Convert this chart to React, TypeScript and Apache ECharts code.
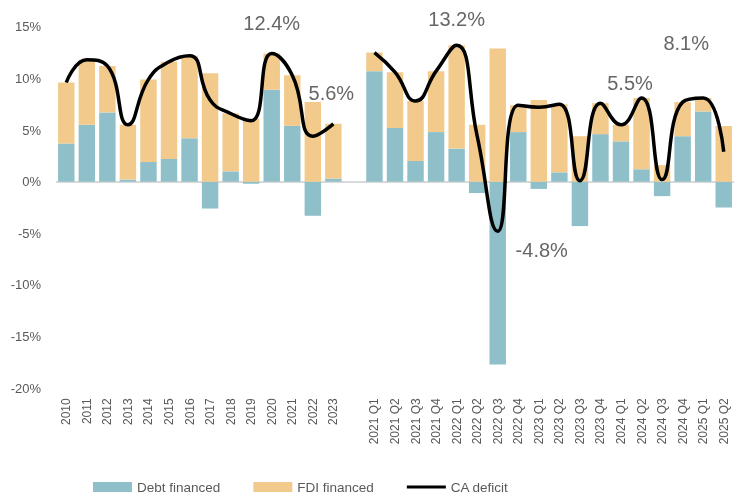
import React, { useEffect, useRef } from "react";
import * as echarts from "echarts";

const categories = [
  "2010", "2011", "2012", "2013", "2014", "2015", "2016", "2017", "2018", "2019", "2020", "2021", "2022", "2023",
  "",
  "2021 Q1", "2021 Q2", "2021 Q3", "2021 Q4", "2022 Q1", "2022 Q2", "2022 Q3", "2022 Q4",
  "2023 Q1", "2023 Q2", "2023 Q3", "2023 Q4", "2024 Q1", "2024 Q2", "2024 Q3", "2024 Q4",
  "2025 Q1", "2025 Q2",
];

const debtFinanced = [
  3.7, 5.5, 6.7, 0.2, 1.9, 2.2, 4.2, -2.6, 1.0, -0.2, 8.9, 5.4, -3.3, 0.3,
  null,
  10.7, 5.2, 2.0, 4.8, 3.2, -1.1, -17.7, 4.8, -0.7, 0.9, -4.3, 4.6, 3.9, 1.2, -1.4, 4.4, 6.8, -2.5,
];

const fdiFinanced = [
  5.9, 6.3, 4.5, 5.3, 8.0, 9.4, 8.0, 10.5, 5.6, 6.1, 3.5, 4.9, 7.7, 5.3,
  null,
  1.8, 5.4, 5.8, 5.9, 10.0, 5.5, 12.9, 2.6, 7.9, 6.6, 4.4, 3.0, 1.6, 6.9, 1.6, 3.3, 1.3, 5.4,
];

const caDeficit = [
  9.6, 11.8, 11.2, 5.5, 9.9, 11.6, 12.2, 7.9, 6.6, 5.9, 12.4, 10.3, 4.4, 5.6,
  null,
  12.5, 10.6, 7.8, 10.7, 13.2, 4.4, -4.8, 7.4, 7.2, 7.5, 0.1, 7.6, 5.5, 8.1, 0.2, 7.7, 8.1, 2.9,
];

const yTicks = [-20, -15, -10, -5, 0, 5, 10, 15];

// annotated points: index into categories, label offset (dx, dy)
const annotations: [number, number, number][] = [
  [10, 0, -31],
  [13, -2, -31],
  [19, 0, -26],
  [21, 44, 19],
  [27, 9, -42],
  [31, -17, -55],
];

const TEAL = "#8FBFC9";
const TAN = "#F2CA8C";
const TEXT = "#595959";
const LINE_ICON = "path://M0,0 M0,3.4 L39,3.4 L39,6.6 L0,6.6 Z M39,10";

export default function App() {
  const ref = useRef<HTMLDivElement>(null);

  useEffect(() => {
    if (!ref.current) return;
    const chart = echarts.init(ref.current, undefined, { renderer: "svg" });

    const labelData = categories.map((_, i) => {
      const a = annotations.find((x) => x[0] === i);
      if (!a) return "-";
      return {
        value: caDeficit[i],
        label: {
          show: true,
          position: "inside",
          offset: [a[1], a[2]],
          formatter: (p: any) => `${p.value}%`,
          fontSize: 20,
          color: "#404040",
          fontFamily: "Liberation Sans",
        },
      };
    });

    const splitColors = yTicks.map((v) => (v === 0 ? "#D9D9D9" : "rgba(0,0,0,0)"));

    chart.setOption({
      animation: false,
      textStyle: { fontFamily: "Liberation Sans" },
      grid: { left: 56, right: -5.4, top: 26.7, bottom: 109.7 },
      legend: {
        left: 88,
        top: 475,
        itemWidth: 39,
        itemHeight: 10,
        itemGap: 33,
        textStyle: { fontSize: 13.5, color: TEXT },
        data: [
          { name: "Debt financed", icon: "rect" },
          { name: "FDI financed", icon: "rect" },
          { name: "CA deficit", icon: LINE_ICON },
        ],
      },
      xAxis: {
        type: "category",
        data: categories,
        axisLine: { show: false, onZero: false },
        axisTick: { show: false },
        axisLabel: { interval: 0, rotate: 90, fontSize: 12, color: TEXT, margin: 10 },
        splitLine: { show: false },
      },
      yAxis: {
        type: "value",
        min: -20,
        max: 15,
        interval: 5,
        axisLine: { show: false },
        axisTick: { show: false },
        axisLabel: { formatter: "{value}%", fontSize: 13, color: TEXT, margin: 15 },
        splitLine: { show: true, lineStyle: { color: splitColors, width: 2 } },
      },
      series: [
        {
          name: "Debt financed",
          type: "bar",
          stack: "total",
          barWidth: "80%",
          data: debtFinanced,
          itemStyle: { color: TEAL },
        },
        {
          name: "FDI financed",
          type: "bar",
          stack: "total",
          barWidth: "80%",
          data: fdiFinanced,
          itemStyle: { color: TAN },
        },
        {
          name: "CA deficit",
          type: "line",
          data: caDeficit,
          smooth: 0.5,
          symbol: "none",
          connectNulls: false,
          lineStyle: { color: "#000", width: 3.5 },
          itemStyle: { color: "#000" },
          z: 5,
        },
        {
          name: "labels",
          type: "scatter",
          data: labelData,
          symbolSize: 1,
          itemStyle: { color: "rgba(0,0,0,0)" },
          silent: true,
          z: 6,
        },
      ],
    });

    return () => chart.dispose();
  }, []);

  return (
    <div
      ref={ref}
      style={{ position: "fixed", left: 0, top: 0, width: 734, height: 498 }}
    />
  );
}
